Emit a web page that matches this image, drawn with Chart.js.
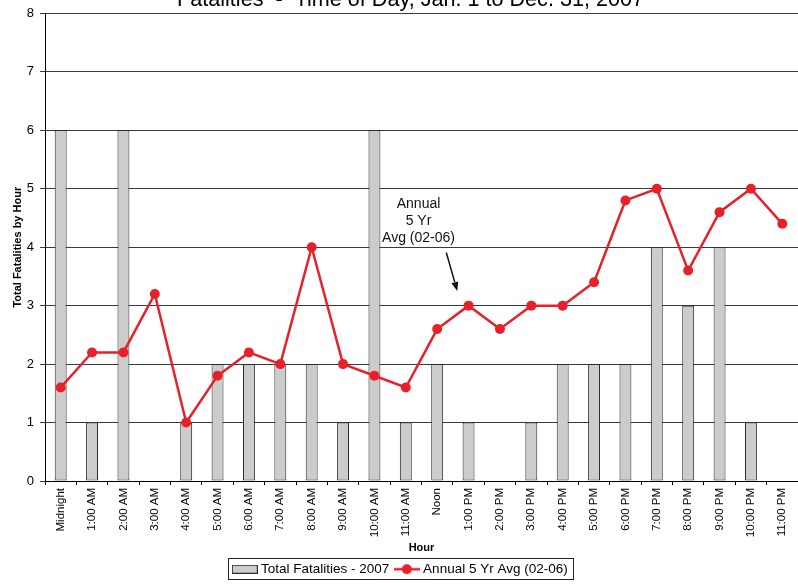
<!DOCTYPE html>
<html><head><meta charset="utf-8">
<script src="https://cdn.jsdelivr.net/npm/chart.js@4/dist/chart.umd.min.js"></script>
<style>
html,body{margin:0;padding:0;background:#fff;overflow:hidden;width:798px;height:584px;}
#c{position:absolute;left:0;top:-16px;}
</style></head>
<body>
<canvas id="c" width="803" height="602"></canvas>
<script>
const hours = ['Midnight','1:00 AM','2:00 AM','3:00 AM','4:00 AM','5:00 AM','6:00 AM','7:00 AM','8:00 AM','9:00 AM','10:00 AM','11:00 AM',
               'Noon','1:00 PM','2:00 PM','3:00 PM','4:00 PM','5:00 PM','6:00 PM','7:00 PM','8:00 PM','9:00 PM','10:00 PM','11:00 PM'];
const totalFatalities2007 = [6,1,6,0,1,2,2,2,2,1,6,1,2,1,0,1,2,2,2,4,3,4,1,0];
const annual5YrAvg = [1.6,2.2,2.2,3.2,1.0,1.8,2.2,2.0,4.0,2.0,1.8,1.6,2.6,3.0,2.6,3.0,3.0,3.4,4.8,5.0,3.6,4.6,5.0,4.4];
const yTicks = [0,1,2,3,4,5,6,7,8];
const seriesNames = ['Total Fatalities - 2007','Annual 5 Yr Avg (02-06)'];
const chartTitle = '   Fatalities  -  Time of Day, Jan. 1 to Dec. 31, 2007';
const xTitle = 'Hour';
const yTitle = 'Total Fatalities by Hour';
const annotationLines = ['Annual','5 Yr','Avg (02-06)'];

const RED = '#e8202a';
const BAR_FILL = '#cccccc';
const BAR_EDGE = '#2a2a2a';
const FONT = "'Liberation Sans', Arial, Helvetica, sans-serif";
Chart.defaults.font.family = FONT;
Chart.defaults.color = '#000';

function barSwatch(){
  const c = document.createElement('canvas'); c.width = 26; c.height = 9;
  const g = c.getContext('2d');
  g.fillStyle = BAR_FILL; g.fillRect(0.5,0.5,25,8);
  g.strokeStyle = BAR_EDGE; g.lineWidth = 1; g.strokeRect(0.5,0.5,25,8);
  return c;
}
function lineSwatch(){
  const c = document.createElement('canvas'); c.width = 26; c.height = 12;
  const g = c.getContext('2d');
  g.strokeStyle = RED; g.lineWidth = 2.5;
  g.beginPath(); g.moveTo(0,6); g.lineTo(26,6); g.stroke();
  g.fillStyle = RED; g.beginPath(); g.arc(13,6,5,0,Math.PI*2); g.fill();
  return c;
}
const swatches = [barSwatch(), lineSwatch()];

const annotationPlugin = {
  id: 'annot',
  afterDatasetsDraw(chart, args, opts){
    const xs = chart.scales.x, ys = chart.scales.y, ctx = chart.ctx;
    ctx.save();
    ctx.fillStyle = '#111';
    ctx.font = '14px ' + FONT;
    ctx.textAlign = 'center';
    ctx.textBaseline = 'middle';
    opts.lines.forEach((t, i) => {
      ctx.fillText(t, xs.getPixelForValue(opts.textX), ys.getPixelForValue(opts.textY[i]));
    });
    const x1 = xs.getPixelForValue(opts.arrowFrom[0]), y1 = ys.getPixelForValue(opts.arrowFrom[1]);
    const x2 = xs.getPixelForValue(opts.arrowTo[0]),   y2 = ys.getPixelForValue(opts.arrowTo[1]);
    const ang = Math.atan2(y2 - y1, x2 - x1);
    const hl = 9, hw = 3.5;
    const bx = x2 - hl*Math.cos(ang), by = y2 - hl*Math.sin(ang);
    ctx.strokeStyle = '#111'; ctx.lineWidth = 1.5;
    ctx.beginPath(); ctx.moveTo(x1,y1); ctx.lineTo(bx,by); ctx.stroke();
    ctx.beginPath();
    ctx.moveTo(x2,y2);
    ctx.lineTo(bx + hw*Math.sin(ang), by - hw*Math.cos(ang));
    ctx.lineTo(bx - hw*Math.sin(ang), by + hw*Math.cos(ang));
    ctx.closePath(); ctx.fill();
    ctx.restore();
  }
};

const legendBoxPlugin = {
  id: 'legendBox',
  afterDraw(chart){
    const lg = chart.legend;
    if (!lg || !lg.legendHitBoxes || !lg.legendHitBoxes.length) return;
    const hb = lg.legendHitBoxes;
    const first = hb[0], last = hb[hb.length-1];
    const left = Math.round(first.left - 7);
    const right = Math.round(last.left + last.width + 5);
    const cy = first.top + first.height/2;
    const top = Math.round(cy - 11);
    const ctx = chart.ctx;
    ctx.save();
    ctx.strokeStyle = '#222'; ctx.lineWidth = 1;
    ctx.strokeRect(left + 0.5, top + 0.5, right - left, 21);
    ctx.restore();
  }
};

new Chart(document.getElementById('c'), {
  data: {
    labels: hours,
    datasets: [
      { type: 'bar', label: seriesNames[0], data: totalFatalities2007,
        backgroundColor: BAR_FILL, borderColor: BAR_EDGE, borderWidth: 1, borderSkipped: false,
        barPercentage: 0.38, categoryPercentage: 1.0, order: 1 },
      { type: 'line', label: seriesNames[1], data: annual5YrAvg,
        borderColor: RED, backgroundColor: RED, borderWidth: 2.5, tension: 0,
        pointRadius: 5, pointBackgroundColor: RED, pointBorderColor: RED, pointBorderWidth: 0, order: 0 }
    ]
  },
  options: {
    responsive: false,
    animation: false,
    events: [],
    layout: { padding: 0 },
    scales: {
      x: {
        offset: true,
        afterFit(scale){ scale.height = 73.5; },
        grid: { display: true, drawOnChartArea: false, drawTicks: true, tickLength: 4, color: '#000', offset: true },
        border: { display: true, color: '#000', width: 1 },
        ticks: { autoSkip: false, minRotation: 90, maxRotation: 90, padding: 3, font: { size: 11.5 }, color: '#000' },
        title: { display: true, text: xTitle, font: { size: 11, weight: 'bold' }, color: '#000', padding: { top: 0, bottom: 0 } }
      },
      y: {
        min: 0, max: 8,
        afterFit(scale){ scale.width = 45; },
        afterBuildTicks(scale){ scale.ticks = yTicks.map(v => ({ value: v })); },
        grid: { color: '#3a3a3a', lineWidth: 1, tickLength: 5, drawTicks: true },
        border: { display: true, color: '#000', width: 1 },
        ticks: { padding: 6, font: { size: 13 }, color: '#000' },
        title: { display: true, text: yTitle, font: { size: 11, weight: 'bold' }, color: '#000', padding: { top: 11, bottom: 0 } }
      }
    },
    plugins: {
      title: { display: true, text: chartTitle, font: { size: 21.6, weight: 'normal' }, color: '#000', padding: { top: 3, bottom: 0.5 } },
      legend: {
        display: true, position: 'bottom',
        labels: {
          usePointStyle: true, pointStyleWidth: 19, boxHeight: 8,
          font: { size: 13.5 }, color: '#000', padding: 8,
          generateLabels(chart){
            return chart.data.datasets.map((ds, i) => ({
              text: ds.label, pointStyle: swatches[i], datasetIndex: i, hidden: false,
              fillStyle: 'transparent', strokeStyle: 'transparent', lineWidth: 0, fontColor: '#000'
            }));
          }
        }
      },
      tooltip: { enabled: false },
      annot: {
        lines: annotationLines,
        textX: 11.405, textY: [4.735, 4.44, 4.15],
        arrowFrom: [12.29, 3.91], arrowTo: [12.64, 3.25]
      }
    }
  },
  plugins: [annotationPlugin, legendBoxPlugin]
});
</script>
</body></html>
